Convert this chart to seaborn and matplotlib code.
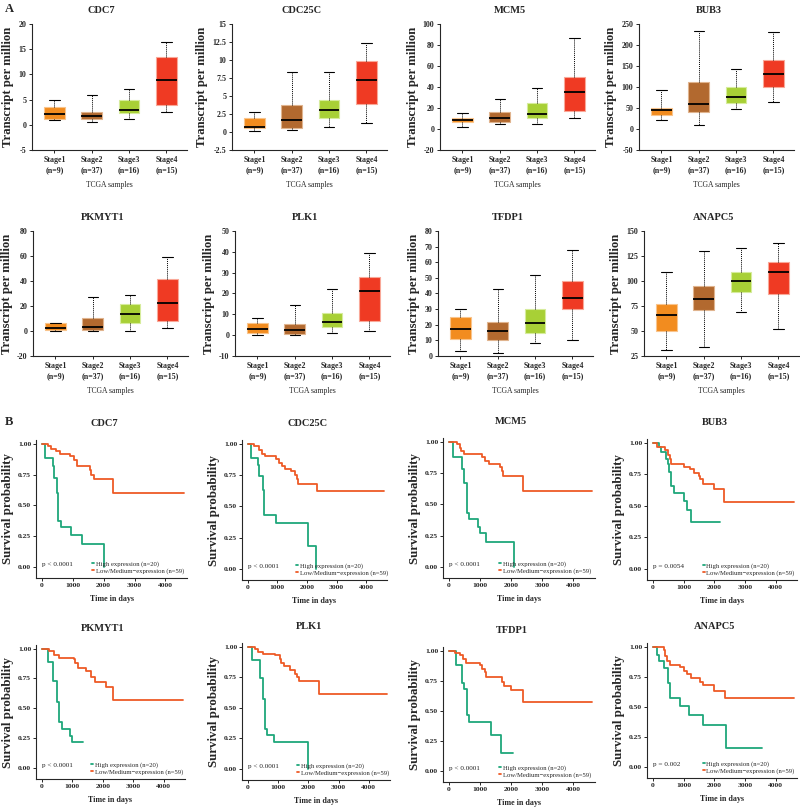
import numpy as np
import pandas as pd
import seaborn as sns
import matplotlib.pyplot as plt
from matplotlib.ticker import FuncFormatter

W, H = 800, 807

genes = ["CDC7", "CDC25C", "MCM5", "BUB3", "PKMYT1", "PLK1", "TFDP1", "ANAPC5"]
stage_labels = ["Stage1\n(n=9)", "Stage2\n(n=37)", "Stage3\n(n=16)", "Stage4\n(n=15)"]
stage_colors = ["#F28C1F", "#B2692F", "#A8D036", "#EF3A23"]
stage_edges = ["#F9C48C", "#E0B48E", "#D6EC9C", "#F9A898"]

# per stage: [lower whisker, q1, median, q3, upper whisker]
cdc7_box = [[0.9, 1.2, 2.1, 3.5, 4.9], [0.5, 1.2, 1.8, 2.5, 5.9],
            [1.1, 2.4, 2.9, 4.9, 7.2], [2.5, 3.9, 8.8, 13.4, 16.5]]
cdc25c_box = [[0.2, 0.5, 0.63, 2.0, 2.75], [0.3, 0.6, 1.7, 3.75, 8.4],
              [0.7, 2.0, 3.0, 4.5, 8.3], [1.3, 3.9, 7.2, 9.9, 12.3]]
mcm5_box = [[2.2, 7.0, 9.0, 10.3, 15.0], [5.0, 7.0, 10.7, 16.4, 28.7],
            [5.0, 10.7, 14.2, 24.6, 38.9], [10.4, 17.0, 35.7, 49.3, 86.4]]
bub3_box = [[21, 34, 45.5, 50, 92], [9, 40, 59, 111, 233],
            [48, 63, 76, 100, 142], [65, 100, 131, 165, 230]]
pkmyt1_box = [[0, 0.7, 2.6, 6.0, 6.6], [0, 0.7, 2.9, 10.3, 27.3],
              [0, 6.1, 13.3, 21.2, 28.7], [2.1, 8.2, 22.6, 41.2, 59.3]]
plk1_box = [[0, 0.8, 3.0, 6.0, 8.0], [0, 0.5, 2.5, 5.5, 14.5],
            [1.0, 4.0, 6.5, 10.5, 22.0], [2.0, 7.0, 21.0, 28.0, 39.5]]
tfdp1_box = [[3, 11, 17, 25, 30], [2, 10, 16, 22, 43],
             [8, 15, 21, 30, 52], [10, 30, 37, 48, 68]]
anapc5_box = [[31.3, 49.5, 66.3, 76.6, 108.7], [33.9, 70.6, 82.2, 95.4, 130.2],
              [68.7, 88.8, 99.7, 109.0, 132.5], [52.1, 86.8, 108.7, 118.6, 138.0]]

# Kaplan-Meier steps: (days, survival) for high and low/medium expression
cdc7_high_t = [0, 100, 350, 400, 480, 530, 620, 950, 1300, 2000]
cdc7_high_s = [1.0, 0.88, 0.82, 0.72, 0.60, 0.37, 0.32, 0.26, 0.19, 0.0]
cdc7_low_t = [0, 200, 300, 450, 600, 900, 1050, 1150, 1550, 1600, 1680, 2300, 4600]
cdc7_low_s = [1.0, 0.98, 0.96, 0.94, 0.92, 0.90, 0.87, 0.82, 0.79, 0.75, 0.71, 0.60, 0.60]

cdc25c_high_t = [0, 130, 345, 400, 508, 560, 940, 2020, 2290]
cdc25c_high_s = [1.0, 0.89, 0.83, 0.74, 0.63, 0.43, 0.37, 0.18, 0.0]
cdc25c_low_t = [0, 200, 400, 500, 600, 950, 1050, 1150, 1250, 1450, 1600, 1650, 1700, 2350, 4600]
cdc25c_low_s = [1.0, 0.98, 0.95, 0.92, 0.90, 0.88, 0.85, 0.82, 0.80, 0.78, 0.75, 0.72, 0.68, 0.62, 0.62]

mcm5_high_t = [0, 130, 410, 500, 580, 655, 930, 990, 1190, 2080]
mcm5_high_s = [1.0, 0.88, 0.78, 0.67, 0.43, 0.38, 0.32, 0.27, 0.20, 0.0]
mcm5_low_t = [0, 250, 350, 400, 500, 1050, 1150, 1300, 1650, 1700, 1750, 2380, 4600]
mcm5_low_s = [1.0, 0.98, 0.95, 0.93, 0.90, 0.88, 0.85, 0.82, 0.80, 0.77, 0.73, 0.61, 0.61]

bub3_high_t = [0, 200, 260, 420, 480, 530, 590, 700, 1010, 1120, 1230, 2200]
bub3_high_s = [1.0, 0.97, 0.93, 0.87, 0.83, 0.77, 0.66, 0.60, 0.54, 0.47, 0.37, 0.37]
bub3_low_t = [0, 150, 400, 500, 550, 600, 1000, 1200, 1350, 1500, 1550, 1650, 2000, 2330, 4600]
bub3_low_s = [1.0, 0.97, 0.94, 0.90, 0.87, 0.83, 0.81, 0.79, 0.76, 0.74, 0.71, 0.67, 0.63, 0.53, 0.53]

pkmyt1_high_t = [0, 210, 380, 510, 570, 670, 920, 980, 1360]
pkmyt1_high_s = [1.0, 0.89, 0.73, 0.55, 0.39, 0.33, 0.27, 0.22, 0.22]
pkmyt1_low_t = [0, 250, 400, 550, 1050, 1100, 1200, 1450, 1600, 1750, 2100, 2350, 4650]
pkmyt1_low_s = [1.0, 0.98, 0.95, 0.92, 0.91, 0.88, 0.84, 0.81, 0.76, 0.72, 0.68, 0.57, 0.57]

plk1_high_t = [0, 150, 400, 500, 560, 630, 870, 1990]
plk1_high_s = [1.0, 0.89, 0.74, 0.57, 0.33, 0.28, 0.22, 0.0]
plk1_low_t = [0, 250, 350, 500, 900, 1050, 1100, 1200, 1400, 1550, 1620, 1680, 2350, 4600]
plk1_low_s = [1.0, 0.98, 0.96, 0.94, 0.93, 0.90, 0.87, 0.84, 0.81, 0.78, 0.75, 0.72, 0.61, 0.61]

tfdp1_high_t = [0, 220, 410, 500, 570, 660, 1350, 1680, 2050]
tfdp1_high_s = [1.0, 0.88, 0.73, 0.68, 0.47, 0.41, 0.30, 0.15, 0.15]
tfdp1_low_t = [0, 200, 350, 450, 550, 1000, 1050, 1150, 1200, 1700, 1780, 2000, 2380, 4600]
tfdp1_low_s = [1.0, 0.98, 0.96, 0.93, 0.90, 0.88, 0.85, 0.82, 0.78, 0.74, 0.71, 0.67, 0.57, 0.57]

anapc5_high_t = [0, 150, 200, 370, 480, 570, 870, 1170, 1650, 2370, 3550]
anapc5_high_s = [1.0, 0.93, 0.88, 0.82, 0.70, 0.57, 0.51, 0.43, 0.35, 0.16, 0.16]
anapc5_low_t = [0, 350, 400, 450, 550, 900, 1000, 1100, 1250, 1550, 1650, 2000, 2350, 4600]
anapc5_low_s = [1.0, 0.97, 0.92, 0.88, 0.85, 0.83, 0.80, 0.77, 0.74, 0.71, 0.68, 0.63, 0.57, 0.57]

p_values = ["p < 0.0001", "p < 0.0001", "p < 0.0001", "p = 0.0054",
            "p < 0.0001", "p < 0.0001", "p < 0.0001", "p = 0.002"]

box_data = dict(zip(genes, [cdc7_box, cdc25c_box, mcm5_box, bub3_box,
                            pkmyt1_box, plk1_box, tfdp1_box, anapc5_box]))
km_data = {
    "CDC7": (cdc7_high_t, cdc7_high_s, cdc7_low_t, cdc7_low_s),
    "CDC25C": (cdc25c_high_t, cdc25c_high_s, cdc25c_low_t, cdc25c_low_s),
    "MCM5": (mcm5_high_t, mcm5_high_s, mcm5_low_t, mcm5_low_s),
    "BUB3": (bub3_high_t, bub3_high_s, bub3_low_t, bub3_low_s),
    "PKMYT1": (pkmyt1_high_t, pkmyt1_high_s, pkmyt1_low_t, pkmyt1_low_s),
    "PLK1": (plk1_high_t, plk1_high_s, plk1_low_t, plk1_low_s),
    "TFDP1": (tfdp1_high_t, tfdp1_high_s, tfdp1_low_t, tfdp1_low_s),
    "ANAPC5": (anapc5_high_t, anapc5_high_s, anapc5_low_t, anapc5_low_s),
}

# y range and tick step of each box panel
box_ylims = {"CDC7": (-5, 20, 5), "CDC25C": (-2.5, 15, 2.5), "MCM5": (-20, 100, 20),
             "BUB3": (-50, 250, 50), "PKMYT1": (-20, 80, 20), "PLK1": (-10, 50, 10),
             "TFDP1": (0, 80, 10), "ANAPC5": (25, 150, 25)}

# pixel boxes (left, top, width, height)
box_pos = [(32, 24, 155, 126), (232, 24, 155, 126), (440, 24, 155, 126), (639, 24, 155, 126),
           (33, 231, 155, 125), (235, 231, 155, 125), (438, 231, 155, 125), (644, 231, 155, 125)]
km_pos = [(36, 440, 151, 138), (242, 440, 145, 140), (443, 438, 152, 140), (647, 439, 150, 141),
          (36, 645, 149, 134), (242, 643, 148, 137), (443, 647, 152, 135), (647, 643, 150, 135)]

high_label = "High expression (n=20)"
low_label = "Low/Medium\u2212expression (n=59)"
km_colors = ["#1FA77B", "#EE5A26"]

sns.set_style("ticks")
plt.rcParams["font.family"] = ["Liberation Serif", "DejaVu Serif"]
plt.rcParams["font.weight"] = "bold"
plt.rcParams["axes.linewidth"] = 0.8

fig = plt.figure(figsize=(W / 100, H / 100), dpi=100)


def px_axes(l, t, w, h):
    return fig.add_axes([l / W, 1 - (t + h) / H, w / W, h / H])


fmt_g = FuncFormatter(lambda v, _: f"{v:g}")

for gene, pos in zip(genes, box_pos):
    ax = px_axes(*pos)
    rows = []
    for lab, summ in zip(stage_labels, box_data[gene]):
        for v in summ:
            rows.append((lab, v))
    df = pd.DataFrame(rows, columns=["stage", "tpm"])
    sns.boxplot(data=df, x="stage", y="tpm", hue="stage", palette=stage_colors,
                saturation=1, legend=False, whis=(0, 100), width=0.55, linewidth=0.8, ax=ax,
                medianprops=dict(color="black", linewidth=1.3),
                whiskerprops=dict(color="black", linestyle=(0, (1, 1)), linewidth=0.7),
                capprops=dict(color="black", linewidth=0.8))
    for patch, ec in zip(ax.patches, stage_edges):
        patch.set_edgecolor(ec)
    lo, hi, step = box_ylims[gene]
    ax.set_ylim(lo, hi)
    ax.set_yticks(np.arange(lo, hi + step / 2, step))
    ax.yaxis.set_major_formatter(fmt_g)
    ax.set_xlim(-0.6, 3.55)
    ax.set_xlabel("TCGA samples", fontsize=5.5, fontweight="normal", labelpad=5)
    ax.set_ylabel("Transcript per million", fontsize=9.2, fontweight="bold", labelpad=3)
    ax.tick_params(axis="both", labelsize=5.7, length=2.5, width=0.7, pad=1.5)
    for t in ax.get_xticklabels():
        t.set_linespacing(1.4)
    ax.set_title(gene, fontsize=7.5, fontweight="bold", pad=8, x=0.45)
    sns.despine(ax=ax)

for gene, pos, ptxt in zip(genes, km_pos, p_values):
    ax = px_axes(*pos)
    ht, hs, lt, ls = km_data[gene]
    df = pd.DataFrame({"days": ht + lt, "surv": hs + ls,
                       "group": [high_label] * len(ht) + [low_label] * len(lt)})
    sns.lineplot(data=df, x="days", y="surv", hue="group", palette=km_colors,
                 estimator=None, drawstyle="steps-post", linewidth=1.3, ax=ax)
    ax.set_xlim(-190, 4700)
    ax.set_ylim(-0.09, 1.03)
    ax.set_xticks([0, 1000, 2000, 3000, 4000])
    ax.set_yticks([0, 0.25, 0.5, 0.75, 1.0])
    ax.yaxis.set_major_formatter(FuncFormatter(lambda v, _: f"{v:.2f}"))
    ax.tick_params(axis="both", labelsize=5.4, length=2, width=0.7, pad=1.5)
    ax.set_xlabel("Time in days", fontsize=5.8, fontweight="bold", labelpad=5)
    ax.set_ylabel("Survival probability", fontsize=9.3, fontweight="bold", labelpad=3)
    ax.set_title(gene, fontsize=7.5, fontweight="bold", pad=10, x=0.45)
    ax.text(0, 0.02, ptxt, fontsize=5.2, fontweight="normal", va="center", ha="left")
    handles, labels = ax.get_legend_handles_labels()
    ax.legend(handles, labels, loc="lower left", bbox_to_anchor=(0.37, 0.03),
              handlelength=0.3, handletextpad=0.3, labelspacing=0.15,
              frameon=False, borderaxespad=0, borderpad=0,
              prop=dict(size=4.8, weight="normal"))
    sns.despine(ax=ax)

fig.text(5 / W, 1 - 9 / H, "A", fontsize=9, fontweight="bold", va="center", ha="left")
fig.text(5 / W, 1 - 422 / H, "B", fontsize=9, fontweight="bold", va="center", ha="left")

fig.savefig("out.png", dpi=100)
